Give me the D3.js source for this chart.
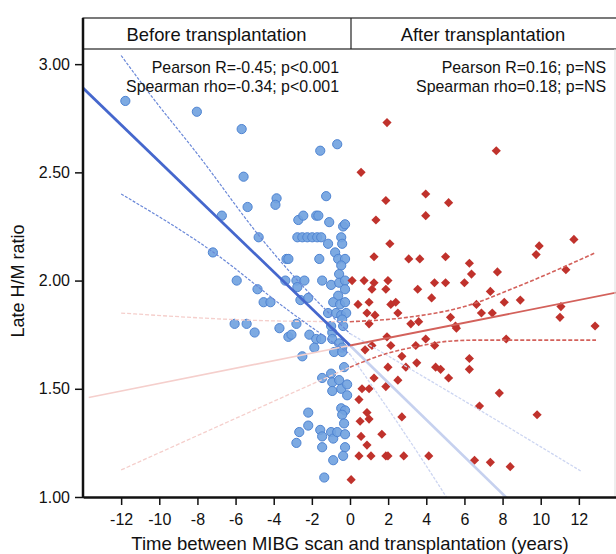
<!DOCTYPE html>
<html>
<head>
<meta charset="utf-8">
<script src="https://cdn.jsdelivr.net/npm/d3@7"></script>
<style>
  body { margin: 0; background: #fff; }
  svg { font-family: "Liberation Sans", Arial, sans-serif; }
  .axis text { font-size: 16px; fill: #111; font-family: "Liberation Sans", Arial, sans-serif; }
</style>
</head>
<body>
<div id="chart"></div>
<script>
// panel headers and stats text
var panels = ['Before transplantation', 'After transplantation'];
var beforeStats = ['Pearson R=-0.45; p<0.001', 'Spearman rho=-0.34; p<0.001'];
var afterStats = ['Pearson R=0.16; p=NS', 'Spearman rho=0.18; p=NS'];

var xTicks = [-12, -10, -8, -6, -4, -2, 0, 2, 4, 6, 8, 10, 12];
var yTicks = [1.0, 1.5, 2.0, 2.5, 3.0];

// years before transplantation (x), late H/M ratio (y)
var beforePoints = [
  [-11.78, 2.83], [-8.03, 2.78], [-5.68, 2.70], [-1.56, 2.60], [-0.67, 2.63],
  [-5.58, 2.48], [-3.85, 2.38], [-3.91, 2.35], [-5.37, 2.34], [-6.72, 2.30],
  [-1.25, 2.39], [-2.71, 2.28], [-2.45, 2.30], [-1.77, 2.30], [-1.66, 2.30],
  [-1.09, 2.27], [-0.36, 2.25], [-0.26, 2.26], [-4.79, 2.20], [-2.76, 2.20],
  [-2.50, 2.20], [-2.24, 2.20], [-1.98, 2.20], [-1.72, 2.20], [-1.51, 2.20],
  [-0.46, 2.20], [-0.41, 2.17], [-1.15, 2.17], [-7.19, 2.13], [-3.33, 2.10],
  [-3.23, 2.10], [-1.61, 2.10], [-0.78, 2.13], [-0.62, 2.10], [-0.26, 2.10],
  [-0.46, 2.07], [-0.57, 2.03], [-5.94, 2.00], [-4.85, 1.96], [-4.53, 1.90],
  [-4.17, 1.90], [-3.39, 2.00], [-2.81, 2.00], [-2.39, 2.00], [-2.76, 1.97],
  [-2.60, 1.91], [-2.19, 1.92], [-1.46, 2.00], [-0.99, 1.98], [-0.57, 1.99],
  [-0.26, 2.00], [-0.62, 1.93], [-0.26, 1.96], [-0.88, 1.90], [-0.52, 1.89],
  [-0.26, 1.90], [-1.15, 1.85], [-0.73, 1.85], [-0.46, 1.84], [-0.20, 1.85],
  [-0.41, 1.82], [-0.36, 1.79], [-6.05, 1.80], [-5.42, 1.80], [-5.00, 1.76],
  [-3.70, 1.78], [-3.23, 1.74], [-2.81, 1.80], [-3.07, 1.75], [-2.13, 1.75],
  [-1.77, 1.73], [-1.51, 1.73], [-1.87, 1.69], [-0.93, 1.76], [-0.93, 1.73],
  [-0.57, 1.71], [-0.41, 1.69], [-0.99, 1.79], [-2.50, 1.65], [-0.83, 1.67],
  [-0.41, 1.67], [-0.31, 1.60], [-0.99, 1.57], [-1.46, 1.55], [-0.93, 1.53],
  [-0.57, 1.54], [-0.46, 1.50], [-0.93, 1.49], [-0.15, 1.52], [-0.15, 1.47],
  [-2.19, 1.39], [-0.46, 1.41], [-0.26, 1.40], [-0.41, 1.38], [-2.66, 1.30],
  [-2.19, 1.33], [-1.56, 1.31], [-1.46, 1.28], [-1.46, 1.23], [-0.99, 1.30],
  [-0.88, 1.27], [-0.67, 1.30], [-0.31, 1.34], [-0.26, 1.29], [-2.81, 1.25],
  [-0.26, 1.23], [-0.36, 1.19], [-0.88, 1.17], [-1.35, 1.09]
];

var afterPoints = [
  [1.94, 2.73], [0.58, 2.50], [3.97, 2.40], [5.17, 2.36], [1.88, 2.37],
  [3.97, 2.30], [1.36, 2.28], [2.09, 2.17], [1.26, 2.11], [3.08, 2.10],
  [3.66, 2.10], [5.01, 2.11], [6.26, 2.08], [6.37, 2.03], [0.11, 2.00],
  [0.74, 2.00], [1.26, 1.99], [1.99, 2.00], [1.15, 1.96], [1.88, 1.96],
  [3.55, 1.96], [4.43, 1.99], [5.01, 1.99], [6.00, 1.99], [4.28, 1.92],
  [0.42, 1.89], [1.00, 1.90], [2.14, 1.89], [2.40, 1.90], [2.51, 1.85],
  [0.89, 1.85], [1.31, 1.84], [1.00, 1.80], [3.19, 1.80], [3.60, 1.81],
  [5.27, 1.83], [5.53, 1.79], [5.58, 1.78], [1.94, 1.74], [1.15, 1.70],
  [2.14, 1.70], [0.79, 1.68], [3.45, 1.70], [3.97, 1.73], [4.44, 1.70],
  [2.72, 1.65], [3.50, 1.62], [1.99, 1.60], [2.93, 1.60], [4.49, 1.60],
  [4.75, 1.59], [5.17, 1.55], [1.26, 1.55], [2.51, 1.54], [6.26, 1.64],
  [6.26, 1.59], [0.63, 1.50], [1.00, 1.50], [1.88, 1.51], [0.47, 1.45],
  [0.89, 1.39], [0.53, 1.35], [1.00, 1.36], [2.72, 1.37], [1.67, 1.29],
  [0.58, 1.28], [0.89, 1.24], [0.47, 1.19], [1.10, 1.19], [1.88, 1.19],
  [1.99, 1.19], [2.82, 1.19], [4.13, 1.19], [6.53, 1.17], [0.06, 1.08],
  [7.67, 2.60], [11.74, 2.19], [9.92, 2.16], [9.76, 2.12], [7.73, 2.04],
  [11.32, 2.05], [7.36, 1.95], [6.63, 1.89], [6.89, 1.85], [7.46, 1.85],
  [8.09, 1.90], [8.93, 1.91], [11.06, 1.88], [11.01, 1.83], [12.85, 1.79],
  [8.19, 1.73], [7.83, 1.48], [6.79, 1.42], [9.81, 1.38], [7.36, 1.16],
  [8.40, 1.14]
];

// fitted lines and 95% bands
var beforeFit = [[-14, 2.89], [0, 1.70]];
var beforeFitExt = [[0, 1.70], [14, 0.50]];
var beforeUpper = [[-12, 3.04], [-10.74, 2.89], [-7.87, 2.57], [-4.7, 2.20], [-3.7, 2.095], [-2, 1.93], [0, 1.755]];
var beforeUpperExt = [[0, 1.755], [5.69, 1.46], [12.1, 1.12]];
var beforeLower = [[-12, 2.40], [-7.15, 2.13], [-3.2, 1.86], [0, 1.66]];
var beforeLowerExt = [[0, 1.66], [5.05, 1.0], [7, 0.72]];

var afterFit = [[0, 1.70], [14, 1.945]];
var afterFitExt = [[-13.7, 1.46], [0, 1.70]];
var afterUpper = [[0, 1.81], [3, 1.83], [6, 1.88], [9, 1.98], [12.9, 2.13]];
var afterUpperExt = [[-12, 1.85], [-3.6, 1.813], [0, 1.81]];
var afterLower = [[0, 1.60], [2, 1.665], [3.5, 1.695], [5.2, 1.72], [6.8, 1.725], [12.9, 1.725]];
var afterLowerExt = [[-12, 1.125], [-3.6, 1.458], [0, 1.60]];

var W = 616, H = 554;
var margin = {top: 49, right: 0, bottom: 57, left: 83};
var headerTop = 18;

var svg = d3.select('#chart').append('svg')
  .attr('width', W)
  .attr('height', H);

var x = d3.scaleLinear()
  .domain([-14, 14])
  .range([margin.left, 617]);

var y = d3.scaleLinear()
  .domain([1, 3.07])
  .range([H - margin.bottom, margin.top]);

svg.append('clipPath')
  .attr('id', 'plotclip')
  .append('rect')
  .attr('x', margin.left)
  .attr('y', margin.top)
  .attr('width', 617 - margin.left)
  .attr('height', H - margin.bottom - margin.top);

var plot = svg.append('g').attr('clip-path', 'url(#plotclip)');

// points
plot.selectAll('circle.before')
  .data(beforePoints)
  .enter()
  .append('circle')
  .attr('class', 'before')
  .attr('cx', function(d) { return x(d[0]); })
  .attr('cy', function(d) { return y(d[1]); })
  .attr('r', 4.6)
  .attr('fill', '#72a3e0')
  .attr('fill-opacity', 0.92)
  .attr('stroke', '#4f84d2')
  .attr('stroke-width', 1);

var diamond = d3.symbol().type(d3.symbolSquare).size(42);
plot.selectAll('path.after')
  .data(afterPoints)
  .enter()
  .append('path')
  .attr('class', 'after')
  .attr('d', diamond)
  .attr('transform', function(d) {
    return 'translate(' + x(d[0]) + ',' + y(d[1]) + ') rotate(45)';
  })
  .attr('fill', '#c0322c');

// lines
var line = d3.line()
  .x(function(d) { return x(d[0]); })
  .y(function(d) { return y(d[1]); })
  .curve(d3.curveMonotoneX);

function drawLine(data, color, width, dash) {
  plot.append('path')
    .datum(data)
    .attr('d', line)
    .attr('fill', 'none')
    .attr('stroke', color)
    .attr('stroke-width', width)
    .attr('stroke-dasharray', dash || null);
}

// faded extrapolations first
drawLine(beforeFitExt, '#c6d1ef', 2.6);
drawLine(beforeUpperExt, '#cdd6f2', 1.3, '3,1.5');
drawLine(beforeLowerExt, '#cdd6f2', 1.3, '3,1.5');
drawLine(afterFitExt, '#f5cfcc', 1.6);
drawLine(afterUpperExt, '#f5cfcc', 1.3, '4,2');
drawLine(afterLowerExt, '#f5cfcc', 1.3, '4,2');

drawLine(beforeFit, '#4567cd', 2.8);
drawLine(beforeUpper, '#6a88d8', 1.2, '3,1.5');
drawLine(beforeLower, '#6a88d8', 1.2, '3,1.5');
drawLine(afterFit, '#d3615b', 1.8);
drawLine(afterUpper, '#d3615b', 1.6, '4,2');
drawLine(afterLower, '#d3615b', 1.6, '4,2');

// header
svg.append('rect')
  .attr('x', margin.left)
  .attr('y', headerTop)
  .attr('width', 640 - margin.left)
  .attr('height', margin.top - headerTop)
  .attr('fill', '#fff')
  .attr('stroke', '#222')
  .attr('stroke-width', 1.2);

svg.append('line')
  .attr('x1', x(0) + 1).attr('x2', x(0) + 1)
  .attr('y1', headerTop).attr('y2', margin.top)
  .attr('stroke', '#222')
  .attr('stroke-width', 1.2);

svg.selectAll('text.panel')
  .data(panels)
  .enter()
  .append('text')
  .attr('class', 'panel')
  .attr('x', function(d, i) { return i === 0 ? (margin.left + x(0)) / 2 : (x(0) + 616) / 2; })
  .attr('y', 40.5)
  .attr('text-anchor', 'middle')
  .attr('font-size', 18.4)
  .attr('fill', '#111')
  .text(function(d) { return d; });

// stats
function drawStats(lines, right) {
  svg.selectAll(null)
    .data(lines)
    .enter()
    .append('text')
    .attr('x', right)
    .attr('y', function(d, i) { return 73 + i * 19; })
    .attr('text-anchor', 'end')
    .attr('font-size', 15.9)
    .attr('fill', '#111')
    .text(function(d) { return d; });
}
drawStats(beforeStats, 339);
drawStats(afterStats, 606);

// right frame edge
svg.append('line')
  .attr('x1', 615).attr('x2', 615)
  .attr('y1', margin.top).attr('y2', H - margin.bottom)
  .attr('stroke', '#ddd')
  .attr('stroke-width', 1);

// axes
var xAxis = d3.axisBottom(x)
  .tickValues(xTicks)
  .tickFormat(function(d) { return String(d); })
  .tickSize(8)
  .tickSizeOuter(0)
  .tickPadding(9);

var yAxis = d3.axisLeft(y)
  .tickValues(yTicks)
  .tickFormat(function(d) { return d.toFixed(2); })
  .tickSize(8)
  .tickSizeOuter(0)
  .tickPadding(5);

var gx = svg.append('g')
  .attr('class', 'x axis')
  .attr('transform', 'translate(0,' + (H - margin.bottom) + ')')
  .call(xAxis);
gx.attr('font-family', null).attr('font-size', null);
gx.select('.domain').attr('stroke', '#111').attr('stroke-width', 2.5);
gx.selectAll('.tick line').attr('stroke', '#111').attr('stroke-width', 1.5);

var gy = svg.append('g')
  .attr('class', 'y axis')
  .attr('transform', 'translate(' + margin.left + ',0)')
  .call(yAxis);
gy.attr('font-family', null).attr('font-size', null);
gy.select('.domain').remove();
gy.selectAll('.tick line').attr('stroke', '#111').attr('stroke-width', 1.5);

svg.append('line')
  .attr('x1', margin.left).attr('x2', margin.left)
  .attr('y1', headerTop).attr('y2', H - margin.bottom + 1)
  .attr('stroke', '#111')
  .attr('stroke-width', 2.5);

// axis titles
svg.append('text')
  .attr('x', 350)
  .attr('y', 550)
  .attr('text-anchor', 'middle')
  .attr('font-size', 18.5)
  .attr('fill', '#111')
  .text('Time between MIBG scan and transplantation (years)');

svg.append('text')
  .attr('transform', 'translate(24,281) rotate(-90)')
  .attr('text-anchor', 'middle')
  .attr('font-size', 18)
  .attr('fill', '#111')
  .text('Late H/M ratio');
</script>
</body>
</html>
